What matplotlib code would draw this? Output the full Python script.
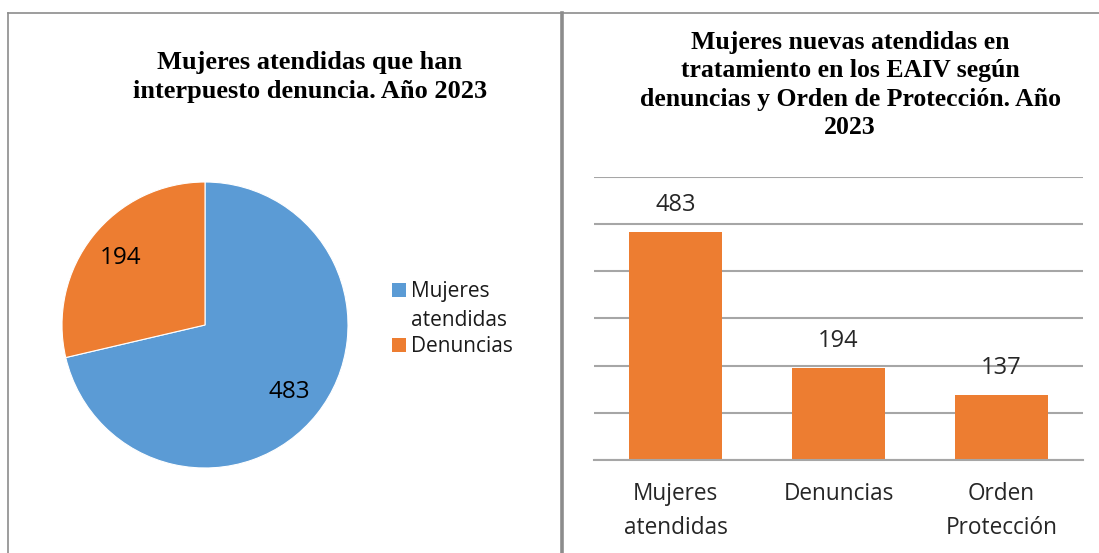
import matplotlib
matplotlib.use("Agg")
import matplotlib.pyplot as plt
from matplotlib.lines import Line2D
from matplotlib.patches import Rectangle

# ---- data ----
pie_labels = ["Mujeres\natendidas", "Denuncias"]
pie_values = [483, 194]
bar_categories = ["Mujeres\natendidas", "Denuncias", "Orden\nProtección"]
bar_values = [483, 194, 137]
title_left = "Mujeres atendidas que han\ninterpuesto denuncia. Año 2023"
title_right = "Mujeres nuevas atendidas en\ntratamiento en los EAIV según\ndenuncias y Orden de Protección. Año\n2023"

BLUE = "#5B9BD5"
ORANGE = "#ED7D31"
GRID = "#A6A6A6"
BORDER = "#8C8C8C"
W, H = 1099, 553
SANS = ["Open Sans", "DejaVu Sans"]
SERIF = ["Liberation Serif", "DejaVu Serif"]

fig = plt.figure(figsize=(W / 100, H / 100), dpi=100)
fig.patch.set_facecolor("white")

def fx(px):
    return px / W

def fy(py):
    return 1 - py / H

# borders
fig.add_artist(Line2D([fx(8), fx(W)], [fy(13), fy(13)], color=BORDER, lw=1.2))
fig.add_artist(Line2D([fx(8), fx(8)], [fy(13), 0], color=BORDER, lw=1.2))
fig.add_artist(Line2D([fx(562), fx(562)], [fy(13), 0], color=BORDER, lw=2.6))

# titles
fig.text(fx(310), fy(77), title_left, ha="center", va="center", fontsize=19,
         fontweight="bold", family=SERIF, linespacing=1.36)
fig.text(fx(850), fy(85), title_right, ha="center", va="center", fontsize=18.5,
         fontweight="bold", family=SERIF, linespacing=1.31)

# ---- pie ----
cx, cy, r = 205, 325, 143
axp = fig.add_axes([fx(cx - r), fy(cy + r), fx(2 * r), (2 * r) / H])
wedges, texts, autotexts = axp.pie(
    pie_values, colors=[BLUE, ORANGE], startangle=90, counterclock=False,
    autopct=lambda p: f"{round(p * sum(pie_values) / 100):d}", pctdistance=0.75,
    wedgeprops=dict(edgecolor="white", linewidth=0.8),
    textprops=dict(fontsize=17.5, family=SANS, color="black"))
axp.set_xlim(-1, 1)
axp.set_ylim(-1, 1)
axp.set_aspect("auto")
axp.axis("off")

# legend (square aligned with first line of each label)
LEG_LINE = 28.5
first_baselines = [297, 352]
for lab, col, base in zip(pie_labels, [BLUE, ORANGE], first_baselines):
    fig.add_artist(Rectangle((fx(392), fy(base)), fx(14), 14 / H,
                             facecolor=col, edgecolor="none", transform=fig.transFigure))
    last_base = base + LEG_LINE * lab.count("\n")
    fig.text(fx(411), fy(last_base), lab, ha="left", va="baseline", fontsize=15,
             family=SANS, color="#1a1a1a", linespacing=1.48)

# ---- bars ----
axb = fig.add_axes([fx(594), fy(460), fx(1083 - 594), (460 - 176.7) / H])
x = list(range(len(bar_categories)))
bars = axb.bar(x, bar_values, width=0.575, color=ORANGE, zorder=3)
axb.set_xlim(-0.5, len(bar_categories) - 0.5)
axb.set_ylim(0, 600)
axb.set_yticks(range(0, 601, 100))
axb.yaxis.grid(True, color=GRID, lw=1.5, zorder=0)
axb.set_yticklabels([])
axb.tick_params(axis="y", length=0)
axb.tick_params(axis="x", length=0, pad=16, labelsize=16.3, labelcolor="#262626")
axb.set_xticks(x)
axb.set_xticklabels(bar_categories, family=SANS, linespacing=1.55)
for s in ["top", "right", "left"]:
    axb.spines[s].set_visible(False)
axb.spines["bottom"].set_color(GRID)
axb.spines["bottom"].set_linewidth(1.5)
axb.spines["bottom"].set_zorder(4)
for b, v in zip(bars, bar_values):
    axb.annotate(f"{v}", (b.get_x() + b.get_width() / 2, v), xytext=(0, 27 * 0.72),
                 textcoords="offset points", ha="center", va="center",
                 fontsize=17, family=SANS, color="#262626", zorder=5)

fig.savefig("out.png", dpi=100, facecolor="white")
